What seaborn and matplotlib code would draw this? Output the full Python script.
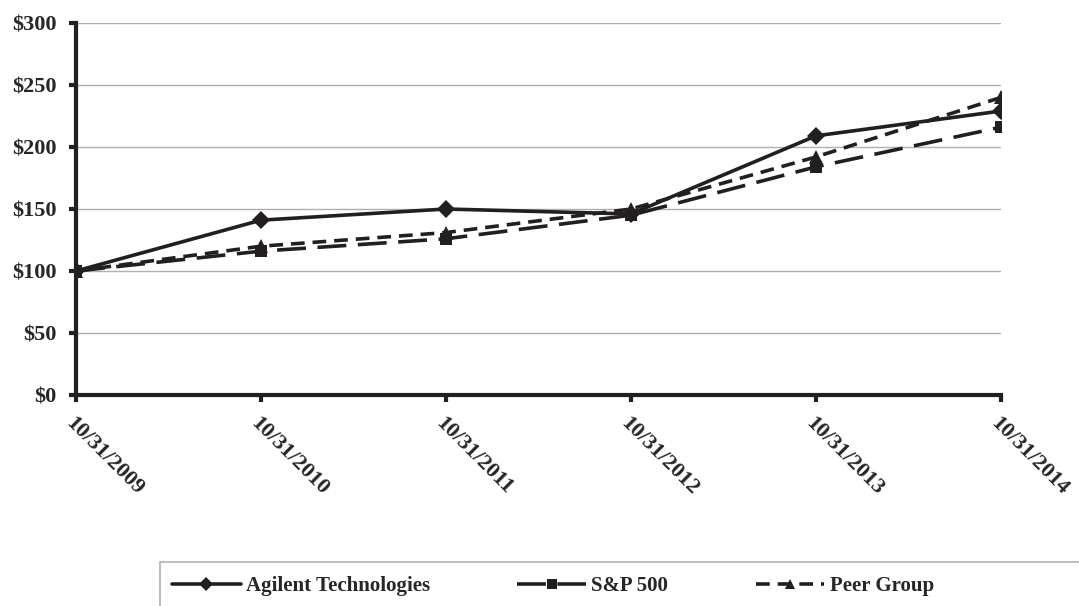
import numpy as np
import pandas as pd
import matplotlib
matplotlib.use('Agg')
import matplotlib.pyplot as plt
import seaborn as sns
from matplotlib.patches import Rectangle

sns.set_style('white')
plt.rcParams['font.family'] = ['Liberation Serif', 'DejaVu Serif']
plt.rcParams['font.weight'] = 'bold'

# Datos
dates = ['10/31/2009', '10/31/2010', '10/31/2011', '10/31/2012', '10/31/2013', '10/31/2014']
agilent = [100, 141, 150, 146, 209, 229]
sp500 = [100, 116, 126, 145, 184, 216]
peer = [100, 120, 131, 150, 192, 240]

df = pd.DataFrame({'fecha': dates, 'Agilent Technologies': agilent,
                   'S&P 500': sp500, 'Peer Group': peer})

fig = plt.figure(figsize=(10.79, 6.06), dpi=100)
ax = fig.add_axes([76/1079, 1-395/606, (1001-76)/1079, (395-23)/606])

sns.lineplot(data=df, x='fecha', y='Agilent Technologies', ax=ax, color='#231f20',
             lw=2.6, marker='D', markersize=9, markeredgewidth=0, label='Agilent Technologies', sort=False)
sns.lineplot(data=df, x='fecha', y='S&P 500', ax=ax, color='#231f20',
             lw=2.6, marker='s', markersize=9, markeredgewidth=0, label='S&P 500', sort=False)
sns.lineplot(data=df, x='fecha', y='Peer Group', ax=ax, color='#231f20',
             lw=2.6, marker='^', markersize=10, markeredgewidth=0, label='Peer Group', sort=False)
ax.lines[1].set_dashes([8, 3.2])
ax.lines[2].set_dashes([3.8, 2.2])

ax.set_xlim(0, 5)
ax.set_ylim(0, 300)
ax.set_yticks(np.arange(0, 301, 50))
ax.set_yticklabels(['$%d' % v for v in range(0, 301, 50)], fontsize=16, fontweight='bold')
ax.set_xticks(range(len(dates)))
ax.set_xticklabels(dates, rotation=-45, ha='left', rotation_mode='anchor',
                   fontsize=16, fontweight='bold')
ax.set_xlabel('')
ax.set_ylabel('')
ax.yaxis.grid(True, color='#b0b0b0', lw=1)
ax.set_axisbelow(True)
sns.despine(ax=ax)
for s in ['left', 'bottom']:
    ax.spines[s].set_linewidth(3)
    ax.spines[s].set_color('#231f20')
ax.tick_params(axis='both', which='both', direction='out', length=5, width=3,
               color='#231f20', left=True, bottom=True)
ax.tick_params(axis='y', pad=9)
ax.tick_params(axis='x', pad=8)
ax.get_legend().remove()

# Caja de leyenda
fig.patches.append(Rectangle((160/1079, -0.05), 1.0, 1-562/606 + 0.05,
                             transform=fig.transFigure, fill=False,
                             edgecolor='#b0b0b0', lw=1.2))
handles, labels = ax.get_legend_handles_labels()
fig.legend(handles, labels, loc='center left', bbox_to_anchor=(153/1079, 1-586/606), ncol=3,
           frameon=False, prop={'size': 15, 'weight': 'bold'}, markerscale=0.75,
           handlelength=3.3, columnspacing=4.2, handletextpad=0.25)

fig.savefig('out.png', dpi=100)
